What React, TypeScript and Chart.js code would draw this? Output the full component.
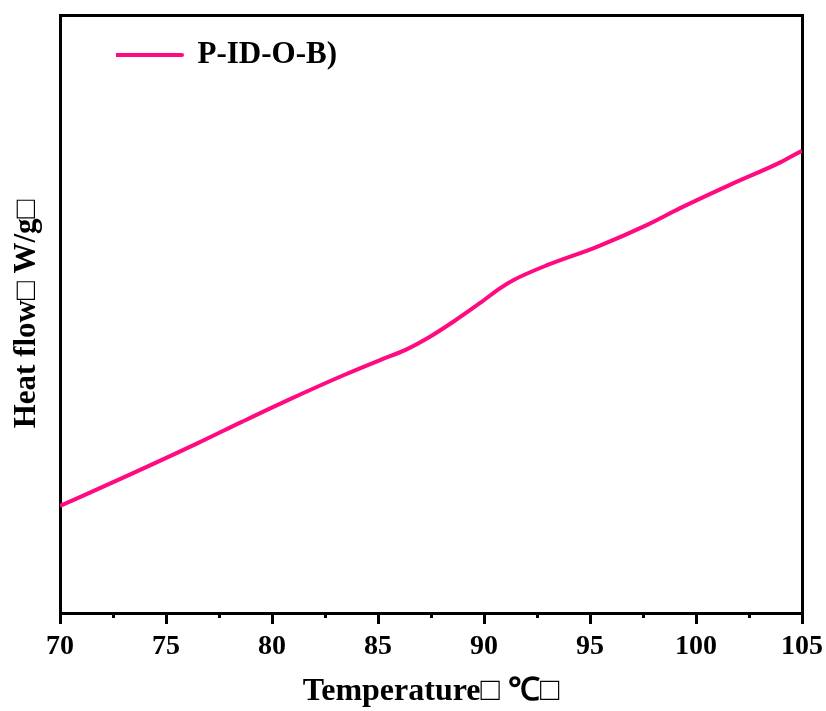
import React, { useEffect, useRef } from "react";
import { Chart, registerables } from "chart.js";

Chart.register(...registerables);

const seriesLabel = "P-ID-O-B)";
const temperatures = [70, 72.9, 76.5, 78.6, 80.75, 83.4, 85.1, 86.3, 87.45, 88.55, 89.8, 90.75, 91.4, 93, 95.3, 97.7, 99.25, 101.6, 104, 105];
const heatFlow = [17.9, 22.5, 28.4, 32.0, 35.6, 39.8, 42.3, 44.0, 46.2, 48.7, 51.8, 54.3, 55.7, 58.2, 61.2, 64.9, 67.7, 71.6, 75.4, 77.3];
const xMin = 70;
const xMax = 105;
const xMajorStep = 5;
const xMinorStep = 2.5;
const yMin = 0;
const yMax = 100;
const xTitle = "Temperature\u25A1 \u2103\u25A1";
const yTitle = "Heat flow\u25A1 W/g\u25A1";

const FONT = "'Liberation Serif', 'Times New Roman', serif";
const LINE_COLOR = "#ff0a80";

const shiftLegend = {
  id: "shiftLegend",
  afterLayout(chart: any) {
    const l = chart.legend;
    if (l) {
      l.left = 116;
      l.top = 39.5;
    }
  },
};

export default function App() {
  const ref = useRef<HTMLCanvasElement | null>(null);

  useEffect(() => {
    if (!ref.current) return;
    const chart = new Chart(ref.current, {
      type: "line",
      data: {
        datasets: [
          {
            label: seriesLabel,
            data: temperatures.map((t, i) => ({ x: t, y: heatFlow[i] })),
            borderColor: LINE_COLOR,
            backgroundColor: LINE_COLOR,
            borderWidth: 4,
            borderJoinStyle: "round",
            pointRadius: 0,
            cubicInterpolationMode: "monotone",
          } as any,
        ],
      },
      options: {
        responsive: false,
        animation: false,
        layout: { padding: { top: 15, right: 24, left: 0, bottom: 0 } },
        plugins: {
          tooltip: { enabled: false },
          legend: {
            position: "chartArea" as any,
            align: "start",
            labels: {
              boxWidth: 66,
              boxHeight: 0,
              padding: 0,
              color: "#000",
              font: { family: FONT, size: 31, weight: "bold" },
            },
          },
        },
        scales: {
          x: {
            type: "linear",
            position: "bottom",
            min: xMin,
            max: xMax,
            afterFit: (s: any) => {
              s.height = 98;
              s.paddingLeft = 0;
              s.paddingRight = 0;
            },
            ticks: {
              stepSize: xMajorStep,
              maxRotation: 0,
              autoSkip: false,
              padding: 7,
              color: "#000",
              font: { family: FONT, size: 28, weight: "bold" },
            },
            grid: {
              display: true,
              drawOnChartArea: false,
              drawTicks: true,
              tickLength: 10,
              lineWidth: 3,
              tickWidth: 3,
              color: "#000",
              tickColor: "#000",
            },
            border: { display: true, width: 3, color: "#000" },
            title: {
              display: true,
              text: xTitle,
              color: "#000",
              font: { family: FONT, size: 32, weight: "bold" },
              padding: { top: 0, bottom: 0 },
            },
          },
          xMajor: {
            type: "linear",
            position: { y: yMin } as any,
            min: xMin,
            max: xMax,
            ticks: { display: false, stepSize: xMajorStep },
            grid: {
              drawOnChartArea: false,
              drawTicks: true,
              tickLength: 11,
              lineWidth: 3,
              tickWidth: 3,
              color: "#000",
              tickColor: "#000",
            },
            border: { display: false },
          },
          xMinor: {
            type: "linear",
            position: { y: yMin } as any,
            min: xMin,
            max: xMax,
            ticks: { display: false, stepSize: xMinorStep },
            grid: {
              drawOnChartArea: false,
              drawTicks: true,
              tickLength: 5,
              lineWidth: 3,
              tickWidth: 3,
              color: "#000",
              tickColor: "#000",
            },
            border: { display: false },
          },
          xTop: {
            type: "linear",
            position: "top",
            min: xMin,
            max: xMax,
            afterFit: (s: any) => {
              s.height = 0;
              s.paddingLeft = 0;
              s.paddingRight = 0;
            },
            ticks: { display: false },
            grid: { drawOnChartArea: false, drawTicks: false },
            border: { display: true, width: 3, color: "#000" },
          },
          y: {
            type: "linear",
            position: "left",
            min: yMin,
            max: yMax,
            afterFit: (s: any) => {
              s.width = 60;
            },
            ticks: { display: false },
            grid: { drawOnChartArea: false, drawTicks: false },
            border: { display: true, width: 3, color: "#000" },
            title: {
              display: true,
              text: yTitle,
              color: "#000",
              font: { family: FONT, size: 31, weight: "bold" },
              padding: { top: 8, bottom: 0 },
            },
          },
          yRight: {
            type: "linear",
            position: "right",
            min: yMin,
            max: yMax,
            afterFit: (s: any) => {
              s.width = 0;
            },
            ticks: { display: false },
            grid: { drawOnChartArea: false, drawTicks: false },
            border: { display: true, width: 3, color: "#000" },
          },
        },
      } as any,
      plugins: [shiftLegend],
    });
    return () => chart.destroy();
  }, []);

  return (
    <div style={{ position: "absolute", left: 0, top: 0, width: 826, height: 711, background: "#fff" }}>
      <canvas ref={ref} width={826} height={711} style={{ display: "block" }} />
    </div>
  );
}
